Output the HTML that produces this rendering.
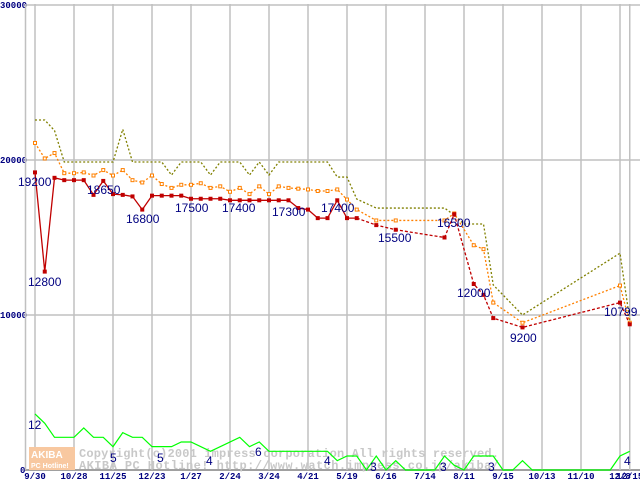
<!DOCTYPE html>
<html><head><meta charset="utf-8"><style>
html,body{margin:0;padding:0;background:#fff}
svg{display:block}
.lb{font-family:"Liberation Sans",sans-serif;font-size:12px;fill:#000080}
.ax{font-family:"Liberation Mono",monospace;font-size:9px;font-weight:bold;fill:#000080}
.wm{font-family:"Liberation Mono",monospace;font-size:12px;font-weight:bold;fill:#c8c8c8}
</style></head><body>
<svg id="chart" width="640" height="480" viewBox="0 0 640 480" xmlns="http://www.w3.org/2000/svg">
<g id="grid"></g>
<g id="wm">
  <rect x="29" y="447" width="46" height="23" fill="#f8c8a0"/>
  <text x="31" y="458" style="font-family:'Liberation Sans',sans-serif;font-size:10px;font-weight:bold;fill:#fff">AKIBA</text>
  <text x="31" y="468" style="font-family:'Liberation Sans',sans-serif;font-size:7px;font-weight:bold;fill:#fff">PC Hotline!</text>
  <text class="wm" x="79" y="457" textLength="420">Copyright(c)2001 impress corporation All rights reserved.</text>
  <text class="wm" x="79" y="469" textLength="420">AKIBA PC Hotline! http://www.watch.impress.co.jp/akiba/</text>
</g>
<g id="series"></g>
<g id="labels"></g>
</svg>
<script>
const xTicks = ["9/30","10/28","11/25","12/23","1/27","2/24","3/24","4/21","5/19","6/16","7/14","8/11","9/15","10/13","11/10","12/8","12/15"];
const xTickWeeks = [0,4,8,12,16,20,24,28,32,36,40,44,48,52,56,60,61];
const yTicks = [0,10000,20000,30000];
const redWeeks = [0,1,2,3,4,5,6,7,8,9,10,11,12,13,14,15,16,17,18,19,20,21,22,23,24,25,26,27,28,29,30,31,32,33,35,37,42,43,45,46,47,50,60,61];
const redValues = [19200,12800,18850,18700,18700,18700,17750,18650,17800,17750,17650,16800,17700,17700,17700,17700,17500,17500,17500,17500,17400,17400,17400,17400,17400,17400,17400,16900,16800,16250,16250,17400,16250,16250,15800,15500,15000,16500,12000,11300,9800,9200,10799,9400];
const orangeWeeks = [0,1,2,3,4,5,6,7,8,9,10,11,12,13,14,15,16,17,18,19,20,21,22,23,24,25,26,27,28,29,30,31,32,33,35,37,42,43,45,46,47,50,60,61];
const orangeValues = [21100,20100,20450,19150,19150,19200,19000,19350,19000,19350,18700,18550,19000,18450,18200,18400,18400,18500,18200,18300,17950,18200,17800,18300,17800,18300,18200,18150,18100,18000,18000,18100,17450,16800,16100,16100,16100,16550,14500,14250,10800,9500,11900,9500];
const oliveWeeks = [0,1,2,3,7,8,9,10,13,14,15,17,18,19,21,22,23,24,25,30,31,32,33,35,42,43,44,46,47,50,60,61];
const oliveValues = [22580,22580,21900,19870,19870,19870,21980,19870,19870,19030,19870,19870,19030,19870,19870,19030,19870,19030,19870,19870,18900,18900,17480,16900,16900,16450,15870,15870,11940,10000,13990,9680];
const greenWeeks = [0,1,2,4,5,6,7,8,9,10,11,12,13,14,15,16,18,21,22,23,24,30,31,32,33,34,35,36,37,38,41,42,43,44,45,47,48,49,50,51,59,60,61];
const greenValues = [12,10,7,7,9,7,7,5,8,7,7,5,5,5,6,6,4,7,5,6,4,4,2,3,3,0,3,0,2,0,0,3,1,0,3,3,0,0,2,0,0,3,4];
const annoValues = ["19200","12800","18650","16800","17500","17400","17300","17400","15500","16500","12000","9200","10799"];
const annoPos = [[18,186],[28,286],[87,194],[126,223],[175,212],[222,212],[272,216],[321,212],[378,242],[437,227],[457,297],[510,342],[604,316]];
const cntPos = [[28,429],[110,462],[157,462],[206,465],[255,456],[324,465],[370,471],[440,471],[488,471],[624,465]];
const cntValues = ["12","5","5","4","6","4","3","3","3","4"];

const NS="http://www.w3.org/2000/svg";
const X = w => 35 + w*9.75;
const Y = v => 470 - v*0.0155;
const YG = n => 470 - n*4.67;
function mk(tag, attrs, parent){const e=document.createElementNS(NS,tag);for(const k in attrs)e.setAttribute(k,attrs[k]);parent.appendChild(e);return e;}
const grid=document.getElementById('grid'), ser=document.getElementById('series'), lab=document.getElementById('labels');

yTicks.forEach(v=>{
  const l=mk('line',{x1:25,x2:640,y1:Y(v),y2:Y(v),stroke:v===0?'#a0a0a0':'#c0c0c0','stroke-width':v===0?2:1.5},grid);
  
  
  const t=mk('text',{x:v===0?20:0,y:Y(v)+3,class:'ax'},grid);t.textContent=String(v);
  
  
});
const ya=mk('line',{x1:25.5,x2:25.5,y1:4,y2:470,stroke:'#c0c0c0','stroke-width':1.5},grid);


xTicks.forEach((s,i)=>{
  const x=X(xTickWeeks[i]);
  const l=mk('line',{x1:x,x2:x,y1:4,y2:470,stroke:'#c0c0c0','stroke-width':1.5},grid);
  
  
  const t=mk('text',{x:x,y:479,class:'ax','text-anchor':'middle'},grid);t.textContent=s;
  
  
});

function pts(ws,vs,f){return ws.map((w,i)=>X(w)+','+f(vs[i])).join(' ');}
const og=mk('polyline',{points:pts(oliveWeeks,oliveValues,Y),fill:'none',stroke:'#808000','stroke-width':1.3,'stroke-dasharray':'2,2'},ser);


const orl=mk('polyline',{points:pts(orangeWeeks,orangeValues,Y),fill:'none',stroke:'#ff8000','stroke-width':1.3,'stroke-dasharray':'2,2'},ser);


orangeWeeks.forEach((w,i)=>{
  const r=mk('rect',{x:X(w)-1.5,y:Y(orangeValues[i])-1.5,width:3,height:3,fill:'#fff',stroke:'#ff8000','stroke-width':1},ser);
  
  
});
const split=redWeeks.indexOf(33);
const r1=mk('polyline',{points:pts(redWeeks.slice(0,split+1),redValues.slice(0,split+1),Y),fill:'none',stroke:'#c00000','stroke-width':1.3},ser);


const r2=mk('polyline',{points:pts(redWeeks.slice(split),redValues.slice(split),Y),fill:'none',stroke:'#c00000','stroke-width':1.3,'stroke-dasharray':'3,2'},ser);


redWeeks.forEach((w,i)=>{
  const r=mk('rect',{x:X(w)-2,y:Y(redValues[i])-2,width:4,height:4,fill:'#c00000'},ser);
  
  
});
const gl=mk('polyline',{points:pts(greenWeeks,greenValues,YG),fill:'none',stroke:'#00ff00','stroke-width':1.2},ser);



annoValues.forEach((s,i)=>{
  const t=mk('text',{x:annoPos[i][0],y:annoPos[i][1],class:'lb'},lab);t.textContent=s;
  
  
});
cntValues.forEach((s,i)=>{
  const t=mk('text',{x:cntPos[i][0],y:cntPos[i][1],class:'lb'},lab);t.textContent=s;
  
  
});
</script>
</body></html>
